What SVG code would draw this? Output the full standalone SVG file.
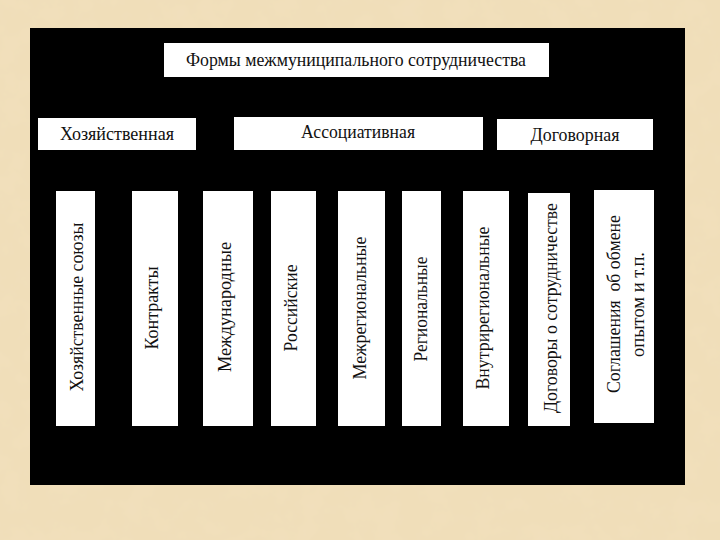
<svg xmlns="http://www.w3.org/2000/svg" width="720" height="540" viewBox="0 0 720 540">
<defs>
<filter id="paper" x="0" y="0" width="720" height="540" filterUnits="userSpaceOnUse">
<feTurbulence type="fractalNoise" baseFrequency="0.04" numOctaves="4" seed="7" result="n"/>
<feColorMatrix in="n" type="matrix" values="0 0 0 0 0.88  0 0 0 0 0.74  0 0 0 0 0.5  2.6 0 0 0 -1.05"/>
</filter>
<marker id="ah" viewBox="0 0 6 6" refX="6" refY="3" markerWidth="4" markerHeight="4" orient="auto">
<path d="M0,0 L6,3 L0,6 z" fill="#000"/>
</marker>
<style>
.box{fill:#fff;}
.h{font-family:"Liberation Serif","Times New Roman",serif;font-size:18px;fill:#111;text-anchor:middle;}
.v{font-family:"Liberation Serif","Times New Roman",serif;font-size:18px;fill:#111;text-anchor:middle;}
.c{fill:none;stroke:#000;stroke-width:1;}
</style>
</defs>
<rect x="0" y="0" width="720" height="540" fill="#f0deb9"/>
<rect x="0" y="0" width="720" height="540" fill="#fff" filter="url(#paper)"/>
<rect x="30" y="28" width="655" height="457" fill="#000"/>

<g id="connectors">
<path class="c" d="M364,77 V100 M117,100 H575 M117,100 V118 M358,100 V117 M575,100 V119"/>
<path class="c" d="M117,150 V170 M75,170 H155 M358,150 V170 M228,170 H486 M575,150 V170 M549,170 H624"/>
<line class="c" x1="75" y1="170" x2="75" y2="190" marker-end="url(#ah)"/>
<line class="c" x1="155" y1="170" x2="155" y2="190" marker-end="url(#ah)"/>
<line class="c" x1="228" y1="170" x2="228" y2="190" marker-end="url(#ah)"/>
<line class="c" x1="293" y1="170" x2="293" y2="190" marker-end="url(#ah)"/>
<line class="c" x1="362" y1="170" x2="362" y2="190" marker-end="url(#ah)"/>
<line class="c" x1="421" y1="170" x2="421" y2="190" marker-end="url(#ah)"/>
<line class="c" x1="486" y1="170" x2="486" y2="190" marker-end="url(#ah)"/>
<line class="c" x1="549" y1="170" x2="549" y2="192" marker-end="url(#ah)"/>
<line class="c" x1="622" y1="170" x2="622" y2="194" marker-end="url(#ah)"/>
</g>

<g id="title">
<rect class="box" x="164" y="43" width="385" height="34"/>
<text class="h" x="356" y="66" font-size="19" textLength="340" lengthAdjust="spacingAndGlyphs">Формы межмуниципального сотрудничества</text>
</g>

<g id="cat-khoz">
<rect class="box" x="38" y="118" width="158" height="32"/>
<text class="h" x="117" y="140" textLength="114" lengthAdjust="spacingAndGlyphs">Хозяйственная</text>
</g>
<g id="cat-assoc">
<rect class="box" x="234" y="117" width="249" height="33"/>
<text class="h" x="358" y="138" textLength="114" lengthAdjust="spacingAndGlyphs">Ассоциативная</text>
</g>
<g id="cat-dog">
<rect class="box" x="497" y="119" width="156" height="31"/>
<text class="h" x="575" y="141" textLength="89" lengthAdjust="spacingAndGlyphs">Договорная</text>
</g>

<g id="item1">
<rect class="box" x="56" y="191" width="39" height="235"/>
<text class="v" transform="translate(83,307) rotate(-90)" textLength="169" lengthAdjust="spacingAndGlyphs">Хозяйственные союзы</text>
</g>
<g id="item2">
<rect class="box" x="132" y="191" width="46" height="235"/>
<text class="v" transform="translate(158,308) rotate(-90)" textLength="83" lengthAdjust="spacingAndGlyphs">Контракты</text>
</g>
<g id="item3">
<rect class="box" x="203" y="191" width="50" height="235"/>
<text class="v" transform="translate(231,307) rotate(-90)" textLength="130" lengthAdjust="spacingAndGlyphs">Международные</text>
</g>
<g id="item4">
<rect class="box" x="271" y="191" width="45" height="235"/>
<text class="v" transform="translate(297,308) rotate(-90)" textLength="87" lengthAdjust="spacingAndGlyphs">Российские</text>
</g>
<g id="item5">
<rect class="box" x="338" y="191" width="47" height="235"/>
<text class="v" transform="translate(366,308) rotate(-90)" textLength="143" lengthAdjust="spacingAndGlyphs">Межрегиональные</text>
</g>
<g id="item6">
<rect class="box" x="402" y="191" width="39" height="235"/>
<text class="v" transform="translate(427,309) rotate(-90)" textLength="105" lengthAdjust="spacingAndGlyphs">Региональные</text>
</g>
<g id="item7">
<rect class="box" x="463" y="191" width="46" height="235"/>
<text class="v" transform="translate(489,308) rotate(-90)" textLength="163" lengthAdjust="spacingAndGlyphs">Внутрирегиональные</text>
</g>
<g id="item8">
<rect class="box" x="528" y="193" width="42" height="233"/>
<text class="v" transform="translate(557,308) rotate(-90)" textLength="210" lengthAdjust="spacingAndGlyphs">Договоры о сотрудничестве</text>
</g>
<g id="item9">
<rect class="box" x="594" y="190" width="60" height="233"/>
<text class="v" transform="translate(620,304) rotate(-90)" textLength="178" lengthAdjust="spacingAndGlyphs" xml:space="preserve">Соглашения  об обмене</text>
<text class="v" transform="translate(644,304.5) rotate(-90)" textLength="105" lengthAdjust="spacingAndGlyphs">опытом и т.п.</text>
</g>
</svg>
